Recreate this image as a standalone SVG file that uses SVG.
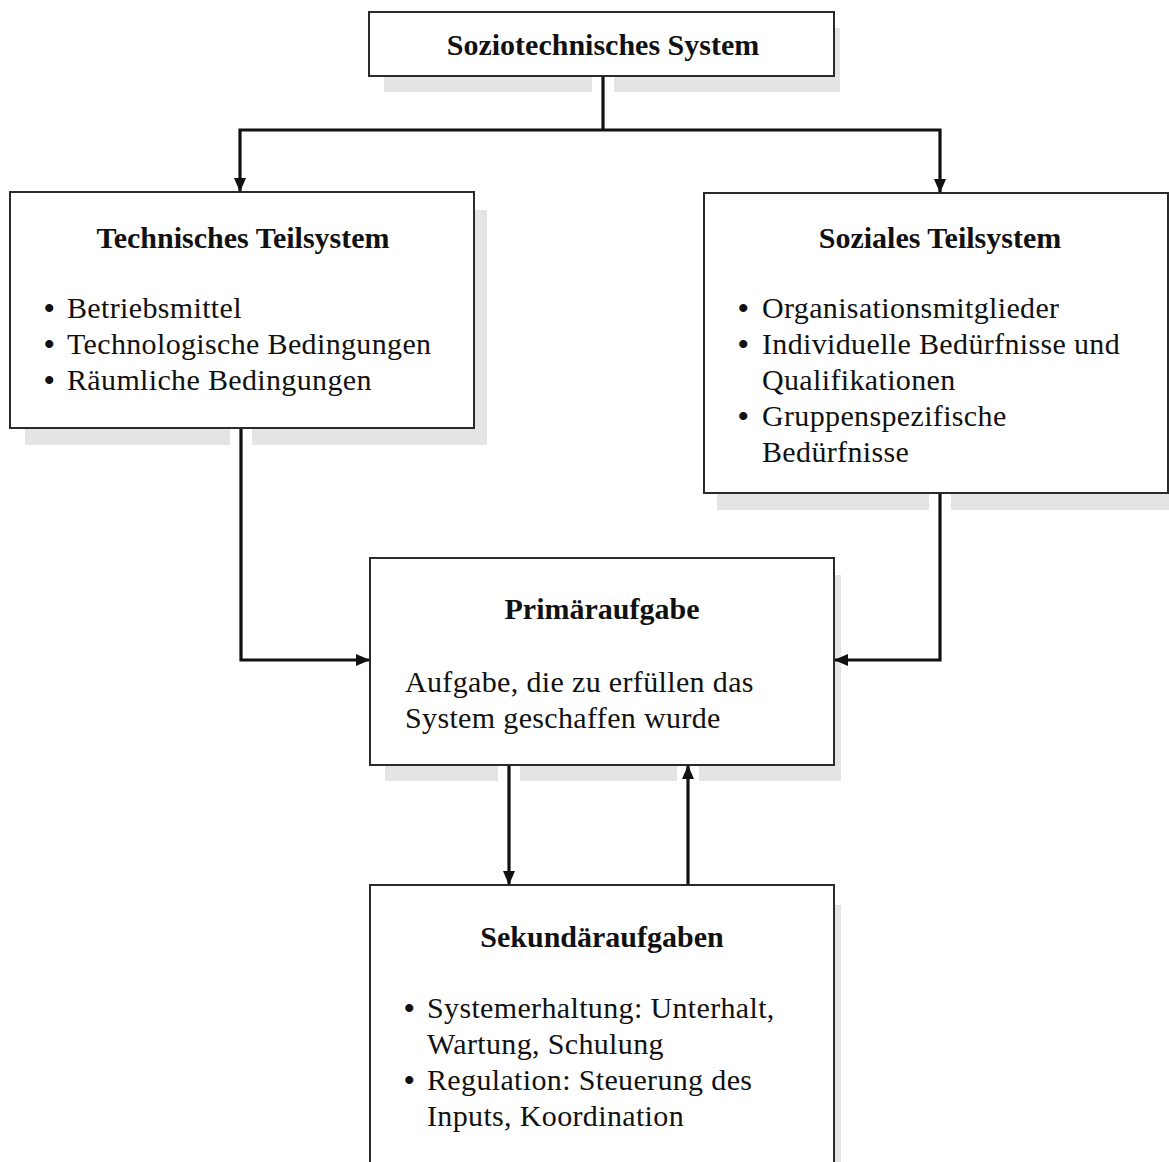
<svg xmlns="http://www.w3.org/2000/svg" width="1169" height="1162" viewBox="0 0 1169 1162">
  <style>
    .shadow { fill: #e4e4e4; }
    .box { fill: #ffffff; stroke: #2a2a2a; stroke-width: 2; }
    .gap { stroke: #ffffff; stroke-width: 22; fill: none; }
    .link { stroke: #111111; stroke-width: 3.2; fill: none; }
    .title { font-family: "Liberation Serif", "DejaVu Serif", serif; font-weight: bold; font-size: 30px; fill: #111; text-anchor: middle; }
    .body { font-family: "Liberation Serif", "DejaVu Serif", serif; font-size: 30px; letter-spacing: 0.35px; fill: #111; }
    .dot { font-family: "Liberation Serif", "DejaVu Serif", serif; font-size: 30px; font-weight: bold; fill: #111; }
  </style>
  <defs>
    <marker id="arrow" viewBox="0 0 14 12" refX="13" refY="6" markerWidth="14" markerHeight="12" markerUnits="userSpaceOnUse" orient="auto">
      <path d="M0,0 L14,6 L0,12 Z" fill="#111"/>
    </marker>
  </defs>
  <rect width="1169" height="1162" fill="#ffffff"/>

  <!-- drop shadows -->
  <g id="shadows">
    <rect class="shadow" x="384" y="28" width="456" height="64"/>
    <rect class="shadow" x="25" y="210" width="462" height="235"/>
    <rect class="shadow" x="717" y="210" width="452" height="300"/>
    <rect class="shadow" x="385" y="575" width="456" height="206"/>
    <rect class="shadow" x="385" y="905" width="456" height="257"/>
  </g>

  <!-- white gaps in shadows where connectors leave the boxes -->
  <g id="gaps">
    <line class="gap" x1="603" y1="77" x2="603" y2="96"/>
    <line class="gap" x1="241" y1="429" x2="241" y2="449"/>
    <line class="gap" x1="940" y1="494" x2="940" y2="514"/>
    <line class="gap" x1="509" y1="766" x2="509" y2="785"/>
    <line class="gap" x1="688" y1="766" x2="688" y2="785"/>
  </g>

  <g id="node-system">
    <rect class="box" x="369" y="12" width="465" height="64"/>
    <text class="title" x="603" y="55">Soziotechnisches System</text>
  </g>

  <g id="node-technisch">
    <rect class="box" x="10" y="192" width="464" height="236"/>
    <text class="title" x="243" y="248">Technisches Teilsystem</text>
    <text class="dot" x="44" y="318">•</text>
    <text class="body" x="67" y="318">Betriebsmittel</text>
    <text class="dot" x="44" y="354">•</text>
    <text class="body" x="67" y="354">Technologische Bedingungen</text>
    <text class="dot" x="44" y="390">•</text>
    <text class="body" x="67" y="390">Räumliche Bedingungen</text>
  </g>

  <g id="node-sozial">
    <rect class="box" x="704" y="193" width="464" height="300"/>
    <text class="title" x="940" y="248">Soziales Teilsystem</text>
    <text class="dot" x="738" y="318">•</text>
    <text class="body" x="762" y="318">Organisationsmitglieder</text>
    <text class="dot" x="738" y="354">•</text>
    <text class="body" x="762" y="354">Individuelle Bedürfnisse und</text>
    <text class="body" x="762" y="390">Qualifikationen</text>
    <text class="dot" x="738" y="426">•</text>
    <text class="body" x="762" y="426">Gruppenspezifische</text>
    <text class="body" x="762" y="462">Bedürfnisse</text>
  </g>

  <g id="node-primaer">
    <rect class="box" x="370" y="558" width="464" height="207"/>
    <text class="title" x="602" y="619">Primäraufgabe</text>
    <text class="body" x="405" y="692">Aufgabe, die zu erfüllen das</text>
    <text class="body" x="405" y="728">System geschaffen wurde</text>
  </g>

  <g id="node-sekundaer">
    <rect class="box" x="370" y="885" width="464" height="290"/>
    <text class="title" x="602" y="947">Sekundäraufgaben</text>
    <text class="dot" x="404" y="1018">•</text>
    <text class="body" x="427" y="1018">Systemerhaltung: Unterhalt,</text>
    <text class="body" x="427" y="1054">Wartung, Schulung</text>
    <text class="dot" x="404" y="1090">•</text>
    <text class="body" x="427" y="1090">Regulation: Steuerung des</text>
    <text class="body" x="427" y="1126">Inputs, Koordination</text>
  </g>

  <g id="connectors">
    <polyline class="link" points="603,77 603,130"/>
    <polyline class="link" points="603,130 240,130 240,191" marker-end="url(#arrow)"/>
    <polyline class="link" points="603,130 940,130 940,192" marker-end="url(#arrow)"/>
    <polyline class="link" points="241,429 241,660 369,660" marker-end="url(#arrow)"/>
    <polyline class="link" points="940,494 940,660 835,660" marker-end="url(#arrow)"/>
    <line class="link" x1="509" y1="766" x2="509" y2="884" marker-end="url(#arrow)"/>
    <line class="link" x1="688" y1="884" x2="688" y2="766" marker-end="url(#arrow)"/>
  </g>
</svg>
